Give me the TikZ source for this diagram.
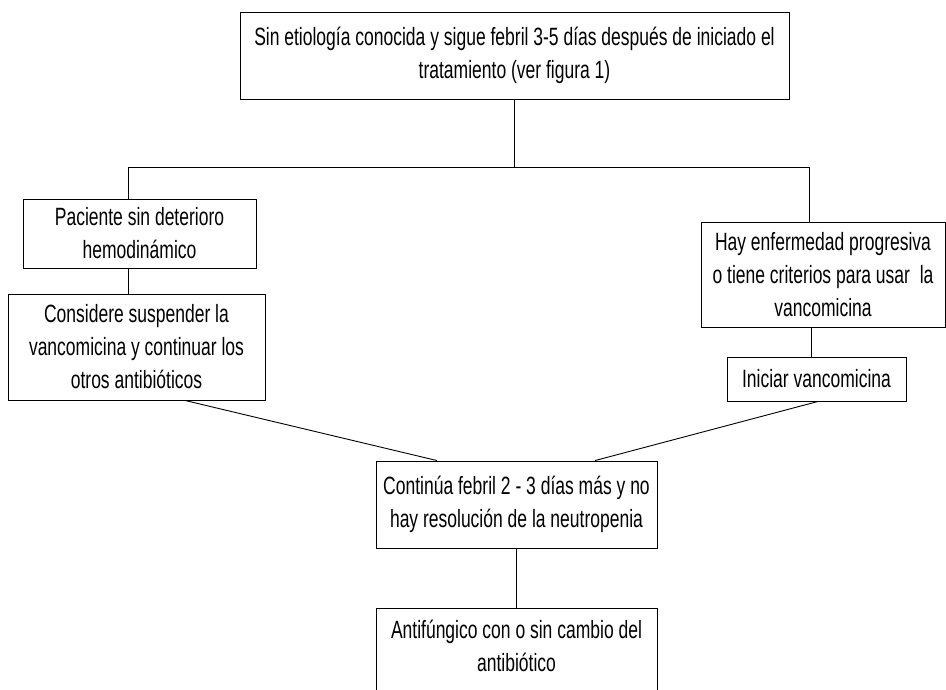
\documentclass[tikz,border=0pt]{standalone}
\usepackage{fontspec}
\setmainfont{Liberation Sans}[FakeStretch=0.7]
\begin{document}
\begin{tikzpicture}[x=1pt,y=-1pt,
  box/.style={draw, line width=0.9pt, inner sep=0pt, align=center,
    font=\fontsize{25}{33}\selectfont},
  con/.style={line width=0.9pt}]
\useasboundingbox (0,0) rectangle (946,689);
\clip (0,0) rectangle (946,689);
\node[box, minimum width=549, minimum height=87] (top) at (514.5,55.5)
  {Sin etiología conocida y sigue febril 3-5 días después de iniciado el\\ tratamiento (ver figura 1)};
\node[box, minimum width=233, minimum height=69] (b1) at (139.5,233.5)
  {Paciente sin deterioro\\ hemodinámico};
\node[box, minimum width=257, minimum height=106] (b2) at (136.5,347)
  {Considere suspender la\\ vancomicina y continuar los\\ otros antibióticos};
\node[box, minimum width=244, minimum height=105] (r1) at (823,274.5)
  {Hay enfermedad progresiva\\ o tiene criterios para usar\ \ la\\ vancomicina};
\node[box, minimum width=179, minimum height=44] (r2) at (816.5,379)
  {Iniciar vancomicina};
\node[box, minimum width=281, minimum height=87] (c) at (516.5,504.5)
  {Continúa febril 2 - 3 días más y no\\ hay resolución de la neutropenia};
\node[box, minimum width=281, minimum height=84, text depth=8pt] (a) at (516.5,650)
  {Antifúngico con o sin cambio del\\ antibiótico};
\coordinate (hl) at (128,167);
\coordinate (hr) at (809,167);
\coordinate (hm) at (514,167);
\draw[con] (top.south -| hm) -- (hm);
\draw[con] (hl |- b1.north) -- (hl) -- (hr) -- (hr |- r1.north);
\draw[con] (b1.south -| hl) -- (b2.north -| hl);
\coordinate (rv) at (811,0);
\draw[con] (r1.south -| rv) -- (r2.north -| rv);
\coordinate (dl1) at (185,0);
\coordinate (dl2) at (437,0);
\coordinate (dr1) at (818,0);
\coordinate (dr2) at (595,0);
\draw[con] (b2.south -| dl1) -- (c.north -| dl2);
\draw[con] (r2.south -| dr1) -- (c.north -| dr2);
\draw[con] (c.south) -- (a.north);
\end{tikzpicture}
\end{document}
